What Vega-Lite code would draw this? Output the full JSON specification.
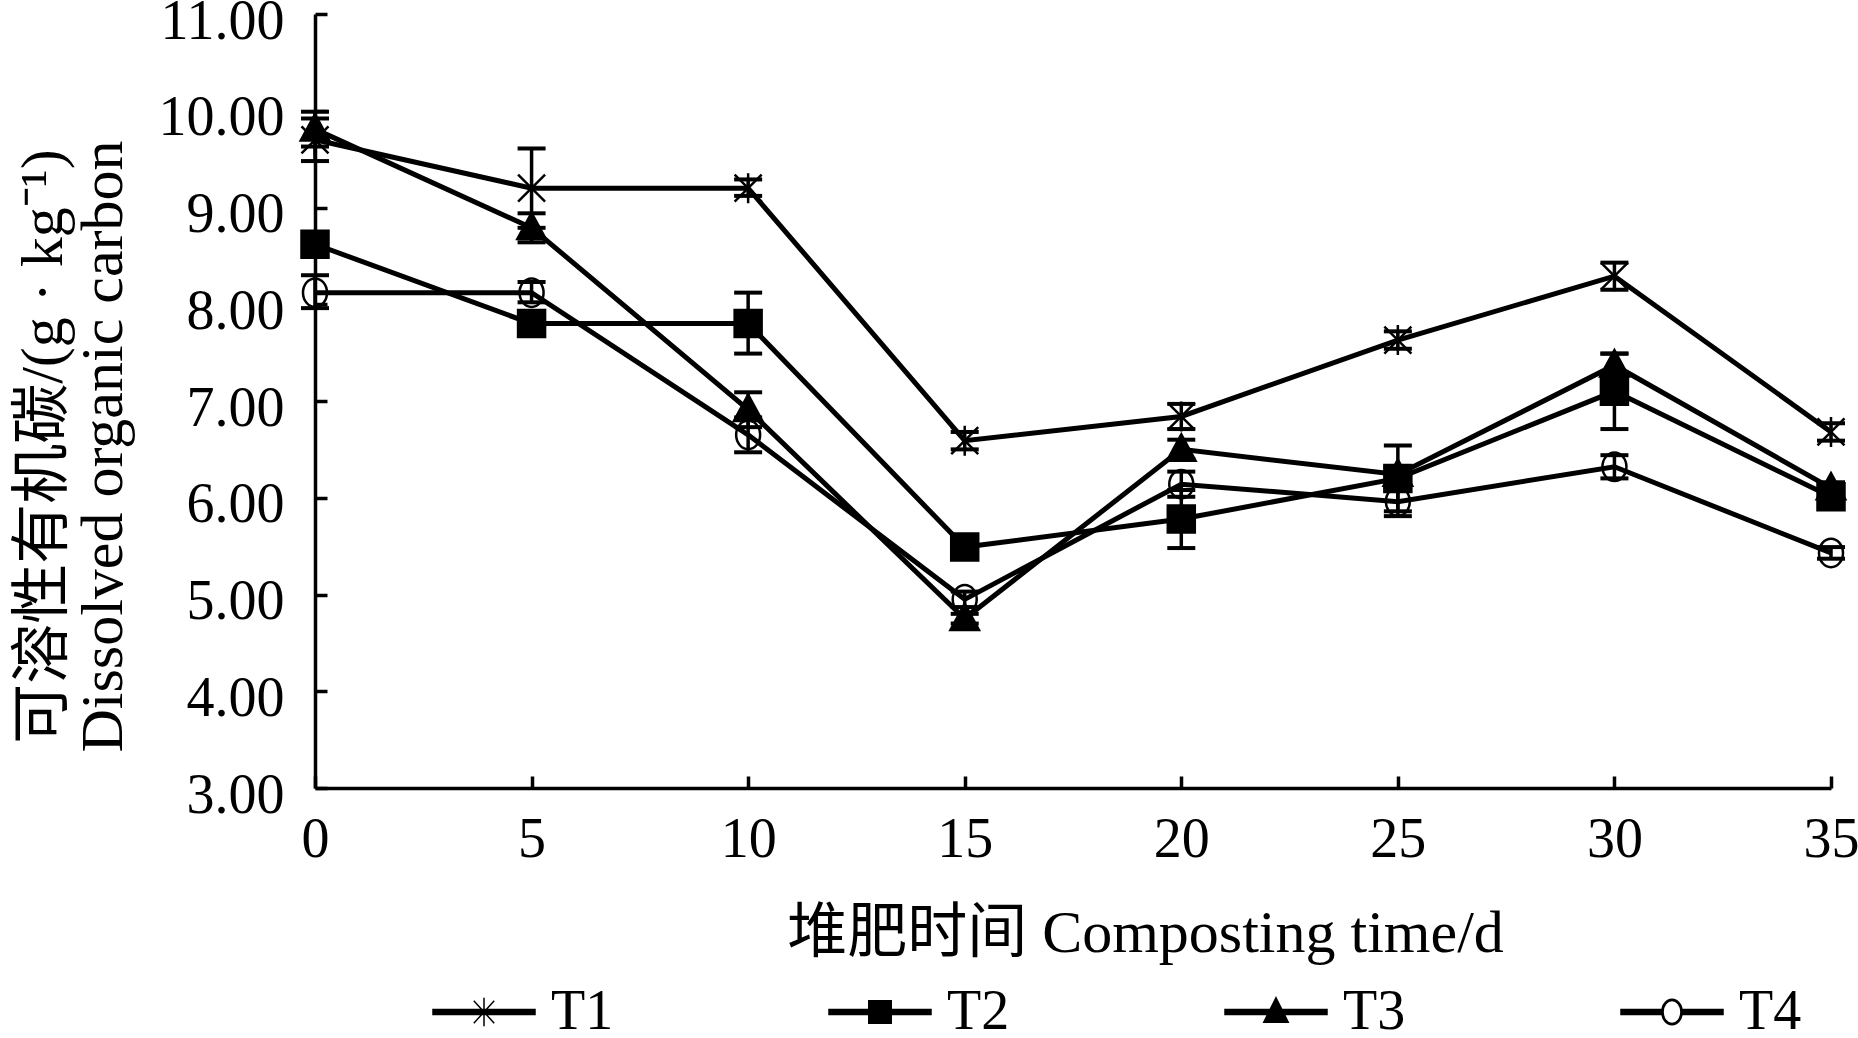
{
  "$schema": "https://vega.github.io/schema/vega-lite/v6.json",
  "width": 1516,
  "height": 774,
  "autosize": {"type": "none"},
  "padding": {"left": 315, "top": 14, "right": 27, "bottom": 250},
  "background": "white",
  "config": {
    "view": {"stroke": null},
    "font": "Liberation Serif",
    "axis": {
      "domainColor": "black",
      "domainWidth": 3.5,
      "tickColor": "black",
      "tickWidth": 3.5,
      "tickSize": -12,
      "grid": false,
      "labelColor": "black",
      "labelFont": "Liberation Serif",
      "labelFontSize": 56,
      "titleColor": "black",
      "titleFont": "Liberation Serif, Noto Sans CJK SC",
      "titleFontSize": 60,
      "titleFontWeight": "normal"
    }
  },
  "data": {
    "values": [
      {"day": 0, "series": "T1", "value": 9.70, "lo": 9.48, "hi": 9.92},
      {"day": 5, "series": "T1", "value": 9.20, "lo": 8.79, "hi": 9.61},
      {"day": 10, "series": "T1", "value": 9.20, "lo": 9.12, "hi": 9.29},
      {"day": 15, "series": "T1", "value": 6.59, "lo": 6.50, "hi": 6.68},
      {"day": 20, "series": "T1", "value": 6.84, "lo": 6.71, "hi": 6.97},
      {"day": 25, "series": "T1", "value": 7.63, "lo": 7.54, "hi": 7.72},
      {"day": 30, "series": "T1", "value": 8.29, "lo": 8.15, "hi": 8.43},
      {"day": 35, "series": "T1", "value": 6.68, "lo": 6.59, "hi": 6.77},
      {"day": 0, "series": "T2", "value": 8.62, "lo": 8.57, "hi": 8.67},
      {"day": 5, "series": "T2", "value": 7.80, "lo": 7.75, "hi": 7.85},
      {"day": 10, "series": "T2", "value": 7.80, "lo": 7.49, "hi": 8.12},
      {"day": 15, "series": "T2", "value": 5.49, "lo": 5.37, "hi": 5.61},
      {"day": 20, "series": "T2", "value": 5.78, "lo": 5.48, "hi": 6.08},
      {"day": 25, "series": "T2", "value": 6.20, "lo": 5.86, "hi": 6.54},
      {"day": 30, "series": "T2", "value": 7.10, "lo": 6.71, "hi": 7.49},
      {"day": 35, "series": "T2", "value": 6.01, "lo": 5.95, "hi": 6.07},
      {"day": 0, "series": "T3", "value": 9.81, "lo": 9.63, "hi": 9.99},
      {"day": 5, "series": "T3", "value": 8.79, "lo": 8.64, "hi": 8.94},
      {"day": 10, "series": "T3", "value": 6.91, "lo": 6.73, "hi": 7.09},
      {"day": 15, "series": "T3", "value": 4.75, "lo": 4.70, "hi": 4.80},
      {"day": 20, "series": "T3", "value": 6.50, "lo": 6.40, "hi": 6.60},
      {"day": 25, "series": "T3", "value": 6.24, "lo": 6.18, "hi": 6.30},
      {"day": 30, "series": "T3", "value": 7.37, "lo": 7.25, "hi": 7.49},
      {"day": 35, "series": "T3", "value": 6.10, "lo": 6.04, "hi": 6.16},
      {"day": 0, "series": "T4", "value": 8.12, "lo": 7.96, "hi": 8.30},
      {"day": 5, "series": "T4", "value": 8.12, "lo": 8.02, "hi": 8.23},
      {"day": 10, "series": "T4", "value": 6.65, "lo": 6.47, "hi": 6.83},
      {"day": 15, "series": "T4", "value": 4.95, "lo": 4.87, "hi": 5.03},
      {"day": 20, "series": "T4", "value": 6.14, "lo": 6.01, "hi": 6.27},
      {"day": 25, "series": "T4", "value": 5.96, "lo": 5.81, "hi": 6.11},
      {"day": 30, "series": "T4", "value": 6.32, "lo": 6.20, "hi": 6.44},
      {"day": 35, "series": "T4", "value": 5.43, "lo": 5.37, "hi": 5.49}
    ]
  },
  "layer": [
    {
      "mark": {"type": "line", "color": "black", "strokeWidth": 5},
      "encoding": {
        "x": {
          "field": "day",
          "type": "quantitative",
          "scale": {"domain": [0, 35], "nice": false, "zero": false},
          "axis": {
            "values": [0, 5, 10, 15, 20, 25, 30, 35],
            "labelPadding": 36,
            "labelFlush": false,
            "title": "堆肥时间 Composting time/d",
            "titleX": 830,
            "titleY": 145,
            "titleBaseline": "middle",
            "titleAnchor": null
          }
        },
        "y": {
          "field": "value",
          "type": "quantitative",
          "scale": {"domain": [3, 11], "nice": false, "zero": false},
          "axis": {
            "values": [3, 4, 5, 6, 7, 8, 9, 10, 11],
            "format": ".2f",
            "labelPadding": 43,
            "labelOffset": 7,
            "labelFlush": false,
            "title": ["可溶性有机碳/(g · kg⁻¹)", "Dissolved organic carbon"],
            "titleAngle": -90,
            "titleX": -272,
            "titleY": 432,
            "titleAlign": "center",
            "titleBaseline": "middle",
            "titleLineHeight": 60
          }
        },
        "detail": {"field": "series"}
      }
    },
    {
      "mark": {"type": "rule", "color": "black", "strokeWidth": 3.5},
      "encoding": {
        "x": {"field": "day", "type": "quantitative"},
        "y": {"field": "lo", "type": "quantitative"},
        "y2": {"field": "hi"}
      }
    },
    {
      "mark": {"type": "tick", "orient": "horizontal", "color": "black", "size": 28, "thickness": 4, "opacity": 1},
      "encoding": {
        "x": {"field": "day", "type": "quantitative"},
        "y": {"field": "lo", "type": "quantitative"}
      }
    },
    {
      "mark": {"type": "tick", "orient": "horizontal", "color": "black", "size": 28, "thickness": 4, "opacity": 1},
      "encoding": {
        "x": {"field": "day", "type": "quantitative"},
        "y": {"field": "hi", "type": "quantitative"}
      }
    },
    {
      "mark": {"type": "point", "filled": true, "stroke": "black", "strokeWidth": 2.5, "size": 900, "opacity": 1},
      "encoding": {
        "x": {"field": "day", "type": "quantitative"},
        "y": {"field": "value", "type": "quantitative"},
        "shape": {
          "field": "series",
          "scale": {
            "domain": ["T1", "T2", "T3", "T4"],
            "range": [
              "M-0.9,-0.9L0.9,0.9M-0.9,0.9L0.9,-0.9M0,-1L0,1",
              "M-0.9,-0.9H0.9V0.9H-0.9Z",
              "M0,-1L0.95,0.75H-0.95Z",
              "M0.8,0A0.8,0.95,0,1,1,-0.8,0A0.8,0.95,0,1,1,0.8,0Z"
            ]
          },
          "legend": null
        },
        "fill": {
          "field": "series",
          "scale": {"domain": ["T1", "T2", "T3", "T4"], "range": ["transparent", "black", "black", "transparent"]},
          "legend": null
        }
      }
    },
    {
      "mark": {"type": "point", "filled": true, "stroke": "black", "opacity": 0},
      "encoding": {
        "x": {"field": "day", "type": "quantitative"},
        "y": {"field": "value", "type": "quantitative"},
        "shape": {
          "field": "series",
          "scale": {
            "domain": ["T1", "T2", "T3", "T4"],
            "range": [
              "M-1,-0.05H1V0.05H-1ZM-0.2,-0.22L0.2,0.22M-0.2,0.22L0.2,-0.22M0,-0.28V0.28",
              "M-1,-0.05H1V0.05H-1ZM-0.22,-0.22H0.22V0.22H-0.22Z",
              "M-1,-0.05H1V0.05H-1ZM0,-0.28L0.24,0.2H-0.24Z",
              "M-1,-0.05H-0.19V0.05H-1ZM0.19,-0.05H1V0.05H0.19ZM0.2,0A0.2,0.25,0,1,1,-0.2,0A0.2,0.25,0,1,1,0.2,0ZM0.175,0A0.175,0.225,0,1,0,-0.175,0A0.175,0.225,0,1,0,0.175,0Z"
            ]
          },
          "legend": {
            "title": null,
            "orient": "none",
            "legendX": 117,
            "legendY": 946,
            "direction": "horizontal",
            "columns": 4,
            "symbolSize": 10404,
            "symbolOpacity": 1,
            "symbolStrokeWidth": 1.5,
            "labelFont": "Liberation Serif",
            "labelFontSize": 56,
            "labelColor": "black",
            "labelOffset": 15,
            "columnPadding": 212,
            "encode": {
              "symbols": {
                "update": {
                  "stroke": {"value": "black"},
                  "strokeWidth": {"value": 1.5},
                  "opacity": {"value": 1}
                }
              }
            }
          }
        },
        "fill": {
          "field": "series",
          "scale": {"domain": ["T1", "T2", "T3", "T4"], "range": ["black", "black", "black", "black"]},
          "legend": {
            "title": null,
            "orient": "none",
            "legendX": 117,
            "legendY": 946,
            "direction": "horizontal",
            "columns": 4,
            "symbolSize": 10404,
            "symbolOpacity": 1,
            "symbolStrokeWidth": 1.5,
            "labelFont": "Liberation Serif",
            "labelFontSize": 56,
            "labelColor": "black",
            "labelOffset": 15,
            "columnPadding": 212,
            "encode": {
              "symbols": {
                "update": {
                  "stroke": {"value": "black"},
                  "strokeWidth": {"value": 1.5},
                  "opacity": {"value": 1}
                }
              }
            }
          }
        }
      }
    }
  ],
  "resolve": {"scale": {"shape": "independent", "fill": "independent"}}
}
